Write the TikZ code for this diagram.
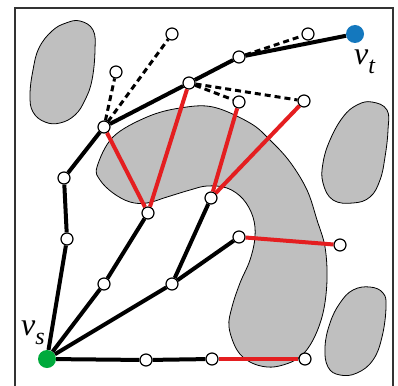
\documentclass[tikz,border=0pt]{standalone}
\usepackage{fontspec}
\newfontfamily\labfont{Liberation Serif}
\definecolor{blobgray}{RGB}{191,191,191}
\definecolor{edgered}{RGB}{228,30,32}
\definecolor{sgreen}{RGB}{0,170,60}
\definecolor{tblue}{RGB}{20,120,190}
\newcommand{\vlab}[1]{{\labfont\itshape\fontsize{32}{32}\selectfont v\raisebox{-9pt}{\fontsize{24}{24}\selectfont #1}}}
\begin{document}
\begin{tikzpicture}[x=1pt,y=-1pt,
  blob/.style={fill=blobgray, draw=black, line width=0.8pt},
  vtx/.style={circle, draw=black, fill=white, line width=1.2pt, inner sep=0pt, minimum size=12pt},
  term/.style={circle, inner sep=0pt, minimum size=18pt},
  pedge/.style={line width=4pt, black},
  redge/.style={line width=4pt, edgered},
  dedge/.style={line width=3pt, black, dash pattern=on 6pt off 4pt},
  lab/.style={inner sep=0pt}]
\useasboundingbox (0,0) rectangle (398,385);
\fill[white] (0,0) rectangle (398,385);
% frame
\draw[line width=1.2pt, black!80] (15,400) -- (15,8) -- (393,8) -- (393,400);
% blobs
\draw[blob] plot[smooth cycle, tension=0.7] coordinates {(80,21) (93,30) (95,50) (92,80) (85,100) (75,115) (60,123) (45,122) (33,112) (30,95) (33,70) (39,48) (52,31) (66,23)};
\draw[blob] plot[smooth cycle, tension=0.7] coordinates {(372,102) (387,110) (388,130) (385,157) (380,180) (370,197) (353,203) (333,200) (323,183) (323,163) (330,140) (343,117) (357,105)};
\draw[blob] plot[smooth cycle, tension=0.7] coordinates {(370,287) (383,293) (386,307) (382,337) (373,360) (357,373) (340,375) (328,367) (325,347) (330,323) (340,303) (353,290)};
\draw[blob] plot[smooth cycle, tension=0.6] coordinates {(97,167) (113,137) (147,117) (180,108) (213,107) (250,123) (270,140) (290,162) (307,190) (317,220) (325,247) (327,280) (323,313) (313,340) (300,357) (283,365) (267,367) (250,362) (237,350) (229,327) (232,307) (240,283) (250,260) (255,237) (253,217) (243,199) (227,188) (207,186) (190,190) (167,197) (147,203) (130,202) (113,193) (100,180)};
% nodes
\node[term, fill=sgreen] (vs) at (47,359) {};
\node[term, fill=tblue] (vt) at (355,34) {};
\node[vtx] (A) at (104,127) {};
\node[vtx] (B) at (64,178) {};
\node[vtx] (C) at (67,239) {};
\node[vtx] (D) at (189,83) {};
\node[vtx] (E) at (239,57) {};
\node[vtx] (F) at (308,34) {};
\node[vtx] (T1) at (172,34) {};
\node[vtx] (T2) at (116,72) {};
\node[vtx] (G) at (239,102) {};
\node[vtx] (H) at (304,101) {};
\node[vtx] (I) at (148,213) {};
\node[vtx] (J) at (211,198) {};
\node[vtx] (K) at (239,237) {};
\node[vtx] (L) at (340,245) {};
\node[vtx] (M) at (104,284) {};
\node[vtx] (N) at (172,284) {};
\node[vtx] (O) at (146,360) {};
\node[vtx] (P) at (212,359) {};
\node[vtx] (Q) at (305,359) {};
% labels
\node[lab, anchor=base west] (ls) at (21,335) {\vlab{s}};
\node[lab, anchor=base west] (lt) at (354,65) {\vlab{t}};
% black edges
\draw[pedge] (vs) -- (C) -- (B) -- (A) -- (D) -- (E) -- (vt);
\draw[pedge] (vs) -- (M) -- (I);
\draw[pedge] (vs) -- (N) -- (J);
\draw[pedge] (N) -- (K);
\draw[pedge] (vs) -- (O) -- (P);
% red edges
\draw[redge] (A) -- (I);
\draw[redge] (D) -- (I);
\draw[redge] (G) -- (J);
\draw[redge] (H) -- (J);
\draw[redge] (K) -- (L);
\draw[redge] (P) -- (Q);
% dashed edges
\draw[dedge] (A) -- (T2);
\draw[dedge] (A) -- (T1);
\draw[dedge] (D) -- (G);
\draw[dedge] (D) -- (H);
\draw[dedge] (E) -- (F);
\end{tikzpicture}
\end{document}
